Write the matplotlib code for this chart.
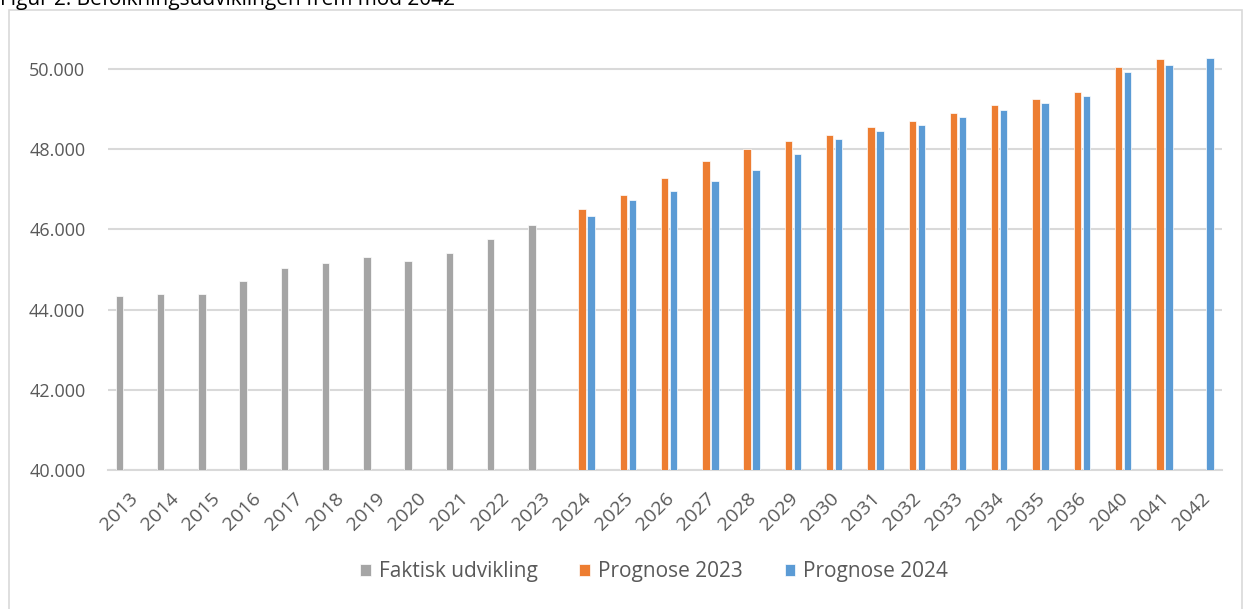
import numpy as np
import matplotlib.pyplot as plt
from matplotlib.patches import Rectangle

# data
years = ['2013', '2014', '2015', '2016', '2017', '2018', '2019', '2020', '2021',
         '2022', '2023', '2024', '2025', '2026', '2027', '2028', '2029', '2030',
         '2031', '2032', '2033', '2034', '2035', '2036', '2040', '2041', '2042']
faktisk = [44350, 44390, 44390, 44710, 45030, 45150, 45310, 45220, 45410,
           45760, 46120]
prognose_2023 = [46500, 46860, 47275, 47715, 48000, 48200, 48350, 48545, 48710,
                 48900, 49095, 49250, 49420, 50060, 50240]
prognose_2024 = [46340, 46725, 46950, 47207, 47490, 47880, 48260, 48445, 48610,
                 48800, 48970, 49160, 49320, 49925, 50090, 50280]

grey = '#a5a5a5'
orange = '#ed7d31'
blue = '#5b9bd5'
txt = '#595959'

plt.rcParams['font.family'] = ['Open Sans', 'DejaVu Sans']

fig = plt.figure(figsize=(12.46, 6.09), dpi=100)
ax = fig.add_axes([0.0864, 0.2282, 0.8941, 0.7046])

x = np.arange(len(years))
w = 0.18
off = 0.218

ax.bar(x[:len(faktisk)] - off, faktisk, width=w, color=grey,
       edgecolor='white', linewidth=0.5, label='Faktisk udvikling', zorder=3)
i0 = len(faktisk)
ax.bar(x[i0:i0 + len(prognose_2023)], prognose_2023, width=w, color=orange,
       edgecolor='white', linewidth=0.5, label='Prognose 2023', zorder=3)
ax.bar(x[i0:i0 + len(prognose_2024)] + off, prognose_2024, width=w, color=blue,
       edgecolor='white', linewidth=0.5, label='Prognose 2024', zorder=3)

ax.set_xlim(-0.5, len(years) - 0.5)
ax.set_ylim(40000, 50700)
ax.set_yticks(range(40000, 50001, 2000))
ax.set_yticklabels([f'{v:,}'.replace(',', '.') for v in range(40000, 50001, 2000)])
ax.set_xticks(x)
ax.set_xticklabels(years, rotation=45, ha='right', rotation_mode='anchor')

ax.grid(axis='y', color='#d9d9d9', linewidth=1.5, zorder=0)
for s in ['top', 'right', 'left']:
    ax.spines[s].set_visible(False)
ax.spines['bottom'].set_color('#d9d9d9')
ax.spines['bottom'].set_linewidth(1.5)
ax.tick_params(axis='y', length=0, pad=16, labelsize=13, labelcolor=txt)
ax.tick_params(axis='x', length=0, pad=14, labelsize=14, labelcolor=txt)

ax.legend(loc='center', bbox_to_anchor=(0.525, 0.0608), bbox_transform=fig.transFigure,
          ncol=3, frameon=False, fontsize=15, labelcolor=txt, handlelength=0.5,
          handleheight=0.5, handletextpad=0.4, columnspacing=2.0)

# outer chart frame
fig.patches.append(Rectangle((9 / 1246, -0.05), 1233 / 1246, 1.05 - 10 / 609,
                             transform=fig.transFigure, fill=False,
                             edgecolor='#d9d9d9', linewidth=1.2))

# title is cut off at the top of the picture
fig.text(0.0, 1 - 5 / 609, 'Figur 2. Befolkningsudviklingen frem mod 2042',
         fontsize=15, va='baseline', ha='left', color='black')

fig.savefig('out.png', dpi=100)
